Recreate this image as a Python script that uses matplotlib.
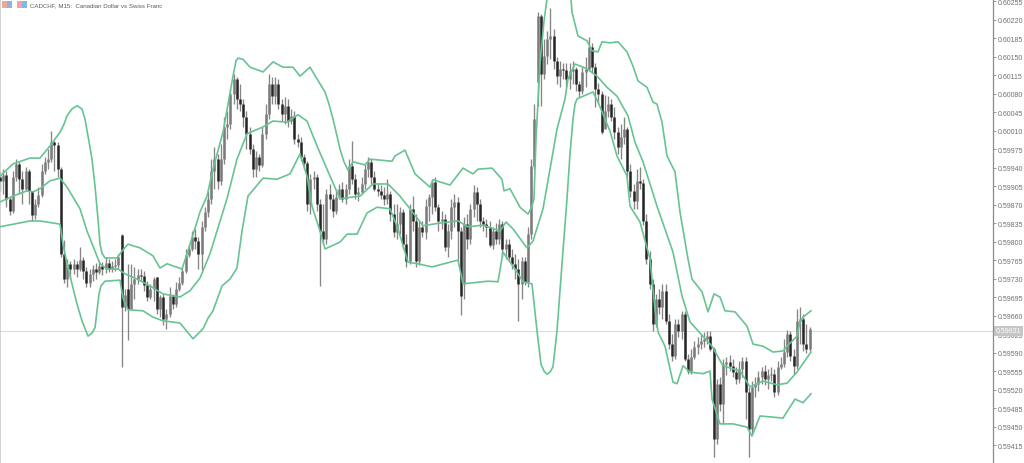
import matplotlib
matplotlib.use("Agg")
import matplotlib.pyplot as plt
from matplotlib.patches import Rectangle

plt.rcParams['font.family'] = ['Liberation Sans', 'DejaVu Sans']

# all prices in points (1 point = 0.00001)
closes = [59915,59926,59881,59858,59922,59947,59918,59900,59934,59896,59850,59871,59888,59934,59951,59956,59988,59983,59937,59777,
59729,59758,59748,59758,59748,59765,59744,59722,59739,59748,59743,59754,59748,59760,59748,59754,59756,59771,59676,59699,
59672,59720,59729,59737,59735,59718,59695,59710,59729,59672,59695,59654,59663,59697,59682,59710,59722,59744,59775,59786,
59809,59801,59777,59828,59856,59881,59934,59956,59915,59956,60017,60022,60079,60108,60070,60060,60036,60004,59975,59937,
59960,59945,60004,60041,60098,60075,60098,60060,60041,60057,60028,60038,59994,59988,59960,59949,59871,59918,59922,59871,
59820,59805,59890,59881,59858,59884,59900,59881,59900,59943,59918,59890,59894,59909,59937,59951,59922,59900,59896,59888,
59881,59890,59852,59818,59833,59856,59795,59763,59862,59839,59763,59828,59818,59867,59884,59913,59865,59839,59843,59790,
59820,59865,59875,59820,59697,59833,59805,59862,59894,59871,59839,59833,59828,59794,59820,59805,59833,59786,59795,59771,
59758,59748,59720,59763,59724,59814,59943,60032,60227,60117,60151,60183,60189,60142,60113,60127,60125,60108,60123,60127,
60098,60085,60121,60127,60168,60130,60089,60079,60007,60047,60060,60036,60007,59979,59998,60013,59934,59896,59877,59915,
59911,59839,59767,59720,59644,59691,59676,59707,59650,59606,59584,59644,59631,59663,59578,59555,59582,59601,59606,59612,
59616,59621,59597,59426,59531,59493,59568,59572,59565,59553,59540,59559,59574,59515,59445,59525,59531,59544,59555,59540,
59548,59550,59515,59563,59568,59591,59625,59584,59565,59650,59654,59606,59597,59635]

opens = [59922,59915,59926,59881,59858,59922,59947,59918,59900,59934,59896,59850,59871,59888,59934,59951,59956,59988,59983,59937,
59777,59729,59758,59748,59758,59748,59765,59744,59722,59739,59748,59743,59754,59748,59760,59748,59754,59756,59812,59676,
59710,59672,59720,59729,59737,59735,59718,59695,59710,59733,59672,59695,59654,59663,59697,59682,59710,59722,59744,59775,
59786,59809,59801,59777,59828,59856,59881,59934,59956,59915,59956,60017,60022,60079,60108,60070,60060,60036,60004,59975,
59937,59960,59945,60004,60041,60098,60075,60098,60060,60041,60057,60028,60038,59994,59988,59960,59949,59871,59918,59922,
59871,59820,59805,59890,59881,59858,59884,59900,59881,59900,59943,59918,59890,59894,59909,59937,59951,59922,59900,59896,
59888,59881,59890,59852,59818,59833,59856,59795,59763,59862,59839,59763,59828,59818,59867,59884,59913,59865,59839,59843,
59790,59820,59865,59875,59820,59720,59833,59805,59862,59894,59871,59839,59833,59828,59794,59820,59805,59833,59786,59795,
59771,59758,59748,59720,59763,59724,59814,59943,60102,60227,60117,60151,60183,60189,60142,60113,60127,60125,60108,60123,
60127,60098,60085,60121,60127,60168,60130,60089,60079,60013,60047,60060,60036,60007,59979,59998,60013,59934,59896,59877,
59915,59911,59839,59767,59720,59644,59691,59676,59707,59650,59606,59584,59644,59631,59663,59578,59555,59582,59601,59606,
59612,59616,59621,59597,59426,59531,59493,59568,59572,59565,59553,59540,59559,59574,59515,59445,59525,59531,59544,59555,
59540,59548,59550,59515,59563,59568,59591,59625,59584,59565,59650,59654,59606,59597]

highs = [59934,59937,59934,59884,59934,59956,59951,59934,59941,59937,59890,59881,59903,59947,59960,59975,60009,59990,59988,59941,
59803,59767,59763,59767,59763,59790,59771,59752,59748,59756,59760,59763,59761,59771,59767,59763,59767,59777,59814,59710,
59758,59758,59752,59748,59748,59744,59725,59720,59733,59733,59699,59701,59672,59714,59701,59724,59733,59752,59786,59794,
59820,59824,59809,59839,59865,59896,59956,59979,59966,59985,60036,60047,60089,60117,60111,60098,60070,60047,60017,59985,
59971,59966,60017,60060,60117,60111,60111,60108,60070,60074,60070,60051,60047,60004,59998,59966,59952,59928,59934,59928,
59881,59871,59900,59909,59890,59900,59909,59913,59909,59956,59990,59928,59903,59922,59947,59960,59956,59934,59909,59907,
59903,59918,59896,59871,59871,59865,59862,59814,59871,59886,59852,59839,59839,59881,59890,59918,59922,59871,59858,59852,
59833,59881,59890,59884,59828,59847,59852,59871,59907,59903,59881,59847,59843,59839,59828,59835,59843,59839,59805,59805,
59786,59777,59767,59771,59771,59828,59956,60060,60234,60231,60183,60198,60242,60202,60149,60142,60138,60138,60138,60142,
60130,60104,60130,60149,60187,60176,60138,60100,60085,60077,60075,60070,60055,60017,60022,60036,60017,59947,59909,59937,
59941,59918,59852,59782,59729,59701,59710,59720,59720,59663,59625,59654,59654,59669,59669,59587,59597,59612,59620,59625,
59629,59631,59631,59601,59540,59544,59578,59582,59585,59578,59563,59574,59582,59582,59525,59536,59544,59555,59563,59566,
59559,59563,59559,59574,59582,59616,59633,59631,59597,59672,59676,59663,59644,59638]

lows = [59896,59890,59865,59850,59854,59915,59890,59871,59896,59871,59839,59843,59865,59884,59928,59937,59951,59934,59922,59771,
59722,59714,59729,59739,59733,59744,59729,59714,59714,59725,59729,59739,59737,59741,59743,59743,59744,59748,59563,59669,
59614,59672,59691,59720,59725,59707,59688,59691,59688,59663,59657,59642,59635,59657,59672,59676,59707,59718,59741,59771,
59782,59786,59748,59746,59820,59847,59871,59900,59900,59907,59947,59994,60013,60060,60051,60047,60017,59975,59966,59922,
59922,59934,59941,59994,60032,60060,60060,60051,60028,60022,60017,60022,59985,59979,59952,59937,59858,59852,59900,59858,
59716,59795,59795,59862,59847,59852,59881,59875,59871,59890,59909,59881,59877,59890,59900,59922,59909,59896,59886,59881,
59869,59871,59839,59809,59805,59814,59786,59752,59758,59820,59752,59756,59809,59805,59839,59852,59858,59820,59824,59782,
59771,59805,59828,59763,59661,59691,59786,59795,59847,59839,59828,59820,59809,59790,59786,59795,59795,59771,59767,59763,
59748,59729,59650,59691,59718,59714,59805,59937,60057,60057,60108,60136,60145,60127,60098,60092,60108,60092,60089,60098,
60085,60074,60079,60092,60123,60119,60055,60060,60004,60022,60036,60028,59994,59966,59956,59985,59922,59884,59862,59862,
59900,59831,59758,59710,59631,59638,59663,59654,59644,59597,59574,59578,59620,59616,59574,59550,59550,59578,59587,59597,
59601,59606,59593,59392,59417,59479,59455,59548,59555,59544,59531,59532,59544,59464,59392,59436,59506,59517,59531,59529,
59521,59536,59506,59510,59559,59563,59582,59574,59550,59559,59606,59593,59589,59593]

upper_x = [0,13,30,40,50,60,64,67,72,77,82,85,88,92,95,98,100,102,105,117,122,128,140,153,160,167,182,187,192,200,207,213,223,228,233,236,238,243,250,263,273,283,293,300,310,317,325,329,333,337,340,344,348,353,365,370,392,395,405,415,430,433,450,463,473,478,492,502,504,510,520,528,532,534,536,540,544,547,559,571,572,578,587,592,598,602,610,618,627,633,638,647,653,657,662,667,675,680,688,692,702,708,714,720,725,735,747,753,763,773,783,787,797,800,803,811]
upper = [59924,59947,59958,59958,59981,60007,60022,60038,60051,60057,60051,60032,60000,59956,59905,59843,59795,59778,59769,59769,59782,59795,59788,59773,59750,59758,59748,59777,59807,59856,59886,59937,60007,60060,60113,60142,60147,60145,60130,60121,60140,60130,60130,60113,60130,60108,60083,60060,60032,60000,59975,59951,59935,59951,59945,59956,59952,59962,59973,59928,59903,59917,59907,59939,59928,59937,59939,59918,59896,59900,59865,59852,59867,59881,59994,60136,60217,60259,60306,60259,60234,60189,60180,60161,60159,60178,60176,60178,60159,60132,60104,60092,60064,60060,60026,59962,59932,59856,59767,59729,59705,59667,59701,59695,59669,59667,59640,59606,59602,59591,59593,59602,59621,59648,59657,59669]

middle_x = [0,13,27,33,40,50,60,67,80,87,100,107,118,125,137,150,163,180,190,200,210,217,227,237,247,263,273,287,298,307,317,330,340,360,373,388,400,410,423,440,458,468,483,500,506,513,527,533,543,550,557,565,568,575,587,597,607,617,628,635,643,657,673,682,690,712,723,740,750,763,777,787,797,811]
middle = [59875,59886,59896,59894,59900,59915,59920,59903,59862,59820,59758,59748,59748,59739,59729,59716,59701,59695,59707,59731,59777,59820,59881,59956,60004,60017,60028,60026,60040,60028,59981,59924,59881,59886,59909,59909,59886,59862,59830,59835,59839,59828,59831,59820,59837,59824,59788,59801,59862,59937,60013,60070,60108,60136,60127,60113,60092,60075,60038,59988,59951,59867,59780,59697,59648,59602,59565,59555,59525,59536,59529,59532,59553,59591]

lower_x = [0,30,40,60,63,67,72,77,82,88,92,95,97,99,101,105,120,123,128,143,153,163,180,193,203,208,213,222,230,237,242,248,263,277,290,300,307,312,320,325,340,347,357,367,377,390,398,408,418,432,458,463,483,488,498,503,515,523,532,537,541,544,547,550,553,555,557,562,567,570,573,575,577,588,593,598,610,617,627,630,640,650,655,658,665,673,677,683,690,703,710,712,720,733,747,752,760,783,795,803,811]
lower = [59828,59839,59839,59833,59795,59758,59720,59682,59650,59621,59627,59637,59669,59701,59716,59725,59727,59693,59671,59669,59657,59650,59646,59616,59635,59655,59669,59716,59729,59750,59820,59886,59920,59918,59928,59966,59924,59867,59820,59786,59799,59814,59814,59854,59865,59862,59824,59761,59758,59752,59765,59720,59724,59725,59724,59780,59748,59724,59720,59631,59568,59555,59549,59553,59563,59597,59631,59758,59881,59966,60032,60060,60070,60079,60083,60064,60009,59962,59924,59867,59837,59767,59672,59629,59602,59534,59531,59565,59553,59550,59555,59502,59455,59455,59449,59432,59470,59466,59502,59495,59512]

tick_points = [60255,60220,60185,60150,60115,60080,60045,60010,59975,59940,59905,59870,59835,59800,59765,59730,59695,59660,59625,59590,59555,59520,59485,59450,59415]
last_price = 59631
title = "CADCHF, M15:  Canadian Dollar vs Swiss Franc"

BAND = '#68c393'
fig = plt.figure(figsize=(10.24, 4.64), dpi=100, facecolor='white')
ax = fig.add_axes([0, 0, 993/1024, 1])
ax.set_xlim(0, 993)
ax.set_ylim(59381, 60259)

xs = [3.2 * i for i in range(len(closes))]
ax.vlines(xs, lows, highs, color='#858585', lw=0.95, zorder=2)
for x, o, c in zip(xs, opens, closes):
    up = c > o
    ax.vlines(x, min(o, c), max(o, c), color='#7b7b7b' if up else '#262626',
              lw=1.8, zorder=3)

for bx, by in [(upper_x, upper), (middle_x, middle), (lower_x, lower)]:
    ax.plot(bx, by, color=BAND, lw=1.2, zorder=4, solid_joinstyle='round')

ax.axhline(last_price, color='#dcdcdc', lw=0.8, zorder=1)

for s in ['top', 'bottom']:
    ax.spines[s].set_visible(False)
ax.spines['left'].set_color('#c9cccc')
ax.spines['left'].set_linewidth(1.2)
ax.spines['right'].set_color('#8a8a8a')
ax.spines['right'].set_linewidth(0.9)
ax.set_xticks([])
ax.yaxis.tick_right()
ax.set_yticks(tick_points)
ax.set_yticklabels([f"{p/100000:.5f}" for p in tick_points])
ax.tick_params(axis='y', direction='out', length=2.5, width=0.6, color='#8a8a8a',
               labelcolor='#707070', labelsize=5, pad=1.2)

# current price tag
ax.annotate(f"{last_price/100000:.5f}", xy=(1, last_price), xycoords=('axes fraction', 'data'),
            xytext=(2.2, 0), textcoords='offset points', va='center', ha='left',
            fontsize=5, color='white', annotation_clip=False, zorder=6,
            bbox=dict(boxstyle='square,pad=0.25', fc='#c6c6c6', ec='none'))

# header icons and symbol description
for x0, a, b in [(2, '#f3a59d', '#86b8e6'), (17, '#f3a59d', '#86b8e6')]:
    fig.add_artist(Rectangle((x0/1024, 1-9/464), 5/1024, 7/464, transform=fig.transFigure, fc=a, ec='none'))
    fig.add_artist(Rectangle(((x0+5)/1024, 1-9/464), 5/1024, 7/464, transform=fig.transFigure, fc=b, ec='none'))
fig.text(30/1024, 1-5.5/464, title, fontsize=4.4, color='#5a5a5a', va='center', ha='left')

fig.savefig('out.png', dpi=100)
